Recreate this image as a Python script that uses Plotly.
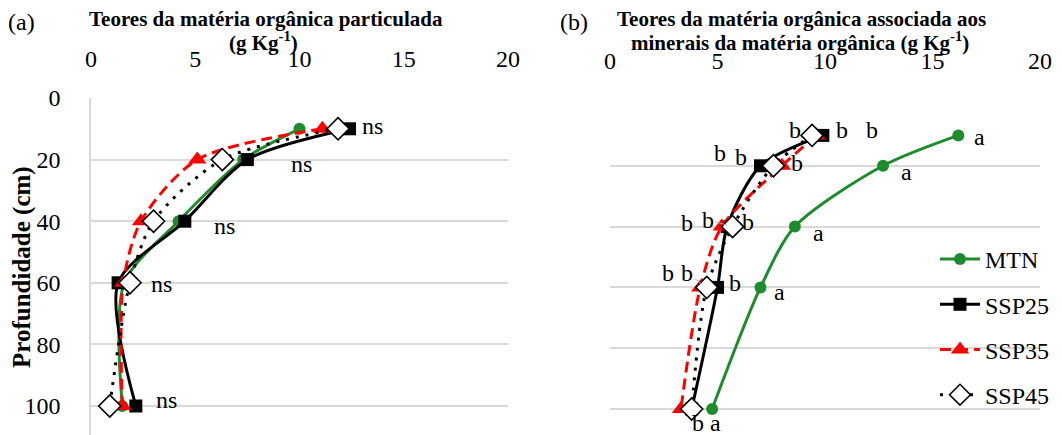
import plotly.graph_objects as go

# ---------------- data ----------------
depth = [10, 20, 40, 60, 100]
series_names = ["MTN", "SSP25", "SSP35", "SSP45"]

# panel (a) – particulate organic matter (g Kg-1)
a_mtn = [10.0, 7.3, 4.2, 1.6, 1.5]
a_ssp25 = [12.4, 7.5, 4.5, 1.3, 2.15]
a_ssp35 = [11.1, 5.1, 2.4, 1.55, 1.5]
a_ssp45 = [11.85, 6.3, 3.0, 1.87, 0.9]

# panel (b) – mineral-associated organic matter (g Kg-1)
b_mtn = [16.2, 12.7, 8.6, 7.0, 4.75]
b_ssp25 = [9.9, 7.0, 5.45, 5.0, 3.8]
b_ssp35 = [9.6, 8.0, 5.2, 4.2, 3.3]
b_ssp45 = [9.4, 7.6, 5.7, 4.5, 3.8]

x_ticks = [0, 5, 10, 15, 20]
y_ticks = [0, 20, 40, 60, 80, 100]

# significance labels (text, x value, depth)
a_labels = [("ns", 13.5, 9), ("ns", 10.1, 21.4), ("ns", 6.4, 41.5),
            ("ns", 3.4, 60.4), ("ns", 3.6, 98)]
b_labels = [("b", 8.6, 8.2), ("b", 10.8, 8.2), ("b", 12.2, 8.2), ("a", 17.2, 10.5),
            ("b", 5.1, 15.8), ("b", 6.1, 17.1), ("b", 8.7, 19.1), ("a", 13.8, 22.0),
            ("b", 3.6, 38.8), ("b", 6.4, 38.5), ("a", 9.7, 42.1),
            ("b", 2.7, 55.3), ("b", 5.8, 58.6), ("a", 7.9, 61.5),
            ("b", 4.1, 104.6), ("a", 4.9, 104.6)]
# labels joined to their point by a leader line (text, x, depth, depth index)
b_leader = [("b", 4.56, 37.8, 2), ("b", 3.6, 55.3, 3)]

# ---------------- styles ----------------
GREEN = "#1E8C2D"
FONT = "Liberation Serif"
SMOOTH = 0.8
styles = {
    "MTN": dict(line=dict(color=GREEN, width=3, shape="spline", smoothing=SMOOTH),
                marker=dict(symbol="circle", size=12, color=GREEN)),
    "SSP25": dict(line=dict(color="black", width=3, shape="spline", smoothing=SMOOTH),
                  marker=dict(symbol="square", size=13, color="black")),
    "SSP35": dict(line=dict(color="#FF0000", width=3, shape="spline", smoothing=SMOOTH,
                            dash="11px,6px"),
                  marker=dict(symbol="triangle-up", size=16, color="#FF0000")),
    "SSP45": dict(line=dict(color="black", width=3, shape="spline", smoothing=SMOOTH,
                            dash="3px,7px"),
                  marker=dict(symbol="diamond", size=17, color="white",
                              line=dict(color="black", width=1.6))),
}

fig = go.Figure()
a_vals = [a_mtn, a_ssp25, a_ssp35, a_ssp45]
b_vals = [b_mtn, b_ssp25, b_ssp35, b_ssp45]
for name, vals in zip(series_names, a_vals):
    fig.add_trace(go.Scatter(x=vals, y=depth, mode="lines+markers", name=name,
                             showlegend=False, xaxis="x", yaxis="y", **styles[name]))
for name, vals in zip(series_names, b_vals):
    fig.add_trace(go.Scatter(x=vals, y=depth, mode="lines+markers", name=name,
                             legendgroup=name, showlegend=True,
                             xaxis="x2", yaxis="y2", **styles[name]))

W, H = 1062, 435
OFF = 8  # page body margin offsets the figure in the browser window


def px(xs):
    return (xs - OFF) / W


def py(ys):
    return 1 - (ys - OFF) / H


GRID = "#D9D9D9"
ann = []
for t, x, d in a_labels:
    ann.append(dict(text=t, x=x, y=d, xref="x", yref="y", showarrow=False,
                    font=dict(family=FONT, size=24, color="black")))
for t, x, d in b_labels:
    ann.append(dict(text=t, x=x, y=d, xref="x2", yref="y2", showarrow=False,
                    font=dict(family=FONT, size=24, color="black")))
for t, x, d, i in b_leader:
    ann.append(dict(text=t, ax=x, ay=d, axref="x2", ayref="y2",
                    x=b_ssp45[i], y=depth[i], xref="x2", yref="y2",
                    showarrow=True, arrowhead=0, arrowwidth=1, arrowcolor="#A6A6A6",
                    standoff=6, font=dict(family=FONT, size=24, color="black")))


def paper_title(text, xc, yc, size=21, bold=True):
    return dict(text=f"<b>{text}</b>" if bold else text, x=px(xc), y=py(yc),
                xref="paper", yref="paper", xanchor="center", yanchor="middle",
                showarrow=False, font=dict(family=FONT, size=size, color="black"))


ann += [
    paper_title("(a)", 21, 22, 24, False),
    paper_title("(b)", 574, 22, 24, False),
    paper_title("Teores da matéria orgânica particulada", 266, 19),
    paper_title("(g Kg<sup>-1</sup>)", 263, 42),
    paper_title("Teores da matéria orgânica associada aos", 801, 19),
    paper_title("minerais da matéria orgânica (g Kg<sup>-1</sup>)", 800, 42),
]
ann.append(dict(text="<b>Profundidade (cm)</b>", x=px(22), y=py(267),
                xref="paper", yref="paper", textangle=-90, showarrow=False,
                xanchor="center", yanchor="middle",
                font=dict(family=FONT, size=25, color="black")))

tickfont = dict(family=FONT, size=24, color="black")
fig.update_layout(
    width=W, height=H,
    margin=dict(l=0, r=0, t=0, b=0, autoexpand=False),
    paper_bgcolor="white", plot_bgcolor="white",
    font=dict(family=FONT, size=24, color="black"),
    xaxis=dict(domain=[px(91), px(508)], range=[0, 20], side="top", anchor="y",
               tickvals=x_ticks, showgrid=False, showline=False, zeroline=False,
               ticks="", ticklabelstandoff=25, tickfont=tickfont, automargin=False),
    yaxis=dict(domain=[0, py(98)], range=[(435 + OFF - 98) / 3.08, 0], tickvals=y_ticks,
               anchor="x", showgrid=True, gridcolor=GRID, gridwidth=1.5,
               showline=True, linecolor=GRID, linewidth=1.5, zeroline=False,
               ticks="", ticklabelstandoff=24, tickfont=tickfont, automargin=False),
    xaxis2=dict(domain=[px(610), px(1040)], range=[0, 20], side="top", anchor="y2",
                tickvals=x_ticks, showgrid=False, showline=False, zeroline=False,
                ticks="", ticklabelstandoff=30, tickfont=tickfont, automargin=False),
    yaxis2=dict(domain=[0, py(105)], range=[(435 + OFF - 105) / 3.04, 0], tickvals=y_ticks,
                anchor="x2", showgrid=True, gridcolor=GRID, gridwidth=1.5,
                showline=False, zeroline=False, showticklabels=False, ticks="",
                automargin=False),
    legend=dict(x=px(935), y=py(237), xanchor="left", yanchor="top",
                bgcolor="rgba(0,0,0,0)", font=dict(family=FONT, size=24, color="black"),
                tracegroupgap=11, itemwidth=40),
    annotations=ann,
    showlegend=True,
)

fig.write_html("out.html")
